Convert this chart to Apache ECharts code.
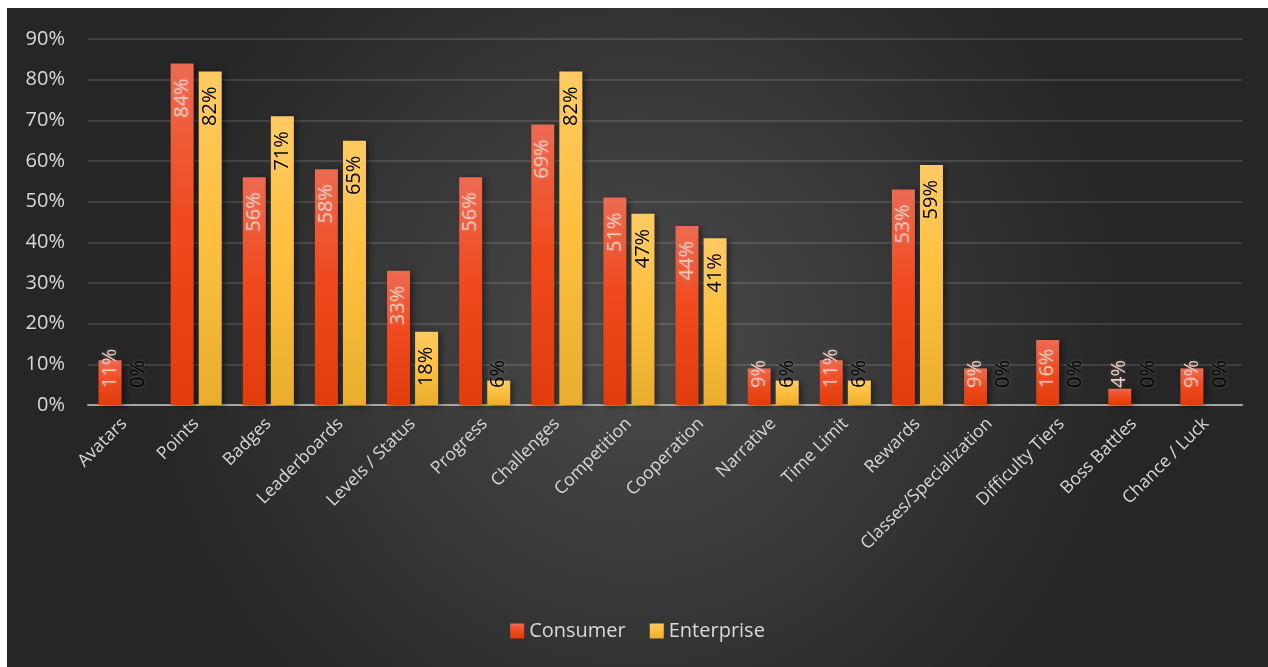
<!DOCTYPE html>
<html>
<head>
<meta charset="utf-8">
<script src="https://cdn.jsdelivr.net/npm/echarts@6/dist/echarts.min.js"></script>
<style>
  html, body { margin: 0; padding: 0; background: #ffffff; }
  #chart { position: absolute; left: 7px; top: 8px; width: 1261px; height: 659px; }
</style>
</head>
<body>
<div id="chart"></div>
<script>
// Game mechanics used, by audience (percent)
const categories = ['Avatars', 'Points', 'Badges', 'Leaderboards', 'Levels / Status', 'Progress',
  'Challenges', 'Competition', 'Cooperation', 'Narrative', 'Time Limit', 'Rewards',
  'Classes/Specialization', 'Difficulty Tiers', 'Boss Battles', 'Chance / Luck'];
const consumer   = [11, 84, 56, 58, 33, 56, 69, 51, 44, 9, 11, 53, 9, 16, 4, 9];
const enterprise = [0, 82, 71, 65, 18, 6, 82, 47, 41, 6, 6, 59, 0, 0, 0, 0];
const yTicks = [0, 10, 20, 30, 40, 50, 60, 70, 80, 90];

const chart = echarts.init(document.getElementById('chart'));

const FONT = '"Open Sans", "Noto Sans", sans-serif';

// Short bars cannot hold their label inside the top end, so it sits low instead.
function itemsWithLabels(values, color) {
  return values.map(v => {
    const short = v < 17;
    return {
      value: v,
      label: short
        ? { position: 'insideBottom', distance: 17, align: 'left', verticalAlign: 'middle', color: v === 0 ? '#000' : color }
        : { position: 'insideTop', distance: 15, align: 'right', verticalAlign: 'middle', color: color }
    };
  });
}

function barSeries(name, values, top, mid, bottom, labelColor) {
  return {
    name: name,
    type: 'bar',
    barWidth: 23,
    barGap: '22%',
    data: itemsWithLabels(values, labelColor),
    itemStyle: {
      color: new echarts.graphic.LinearGradient(0, 0, 0, 1, [
        { offset: 0, color: top },
        { offset: 0.45, color: mid },
        { offset: 1, color: bottom }
      ]),
      shadowColor: 'rgba(0,0,0,0.45)',
      shadowBlur: 6,
      shadowOffsetX: 3,
      shadowOffsetY: 1
    },
    label: {
      show: true,
      rotate: 90,
      fontFamily: FONT,
      fontSize: 20,
      formatter: p => p.value + '%',
      textShadowColor: 'rgba(255,255,255,0.25)',
      textShadowBlur: 3
    }
  };
}

chart.setOption({
  backgroundColor: {
    type: 'radial', x: 0.5, y: 0.5, r: 0.75,
    colorStops: [
      { offset: 0, color: '#4b4b4b' },
      { offset: 1, color: '#262626' }
    ]
  },
  animation: false,
  textStyle: { fontFamily: FONT },
  grid: { left: 81, right: 26, top: 31, bottom: 262, containLabel: false },
  legend: {
    bottom: 21,
    left: 'center',
    itemWidth: 14,
    itemHeight: 15,
    itemGap: 24,
    icon: 'rect',
    textStyle: { color: '#d9d9d9', fontSize: 20, fontFamily: FONT },
    data: ['Consumer', 'Enterprise']
  },
  xAxis: {
    type: 'category',
    data: categories,
    axisLine: { show: true, lineStyle: { color: '#a6a6a6', width: 2 } },
    axisTick: { show: false },
    axisLabel: {
      interval: 0,
      rotate: 45,
      margin: 16,
      color: '#d9d9d9',
      fontSize: 17.5,
      fontFamily: FONT
    }
  },
  yAxis: {
    type: 'value',
    min: 0,
    max: yTicks[yTicks.length - 1],
    interval: 10,
    axisLine: { show: false },
    axisTick: { show: false },
    splitLine: { lineStyle: { color: 'rgba(255,255,255,0.12)', width: 2 } },
    axisLabel: {
      color: '#d9d9d9',
      fontSize: 20,
      fontFamily: FONT,
      margin: 23,
      formatter: v => v + '%'
    }
  },
  series: [
    barSeries('Consumer', consumer, '#ec6a52', '#f04a1e', '#e03c0c', '#f4cbbf'),
    barSeries('Enterprise', enterprise, '#ffca62', '#ffc040', '#e9ae2e', '#000000')
  ]
});
</script>
</body>
</html>
